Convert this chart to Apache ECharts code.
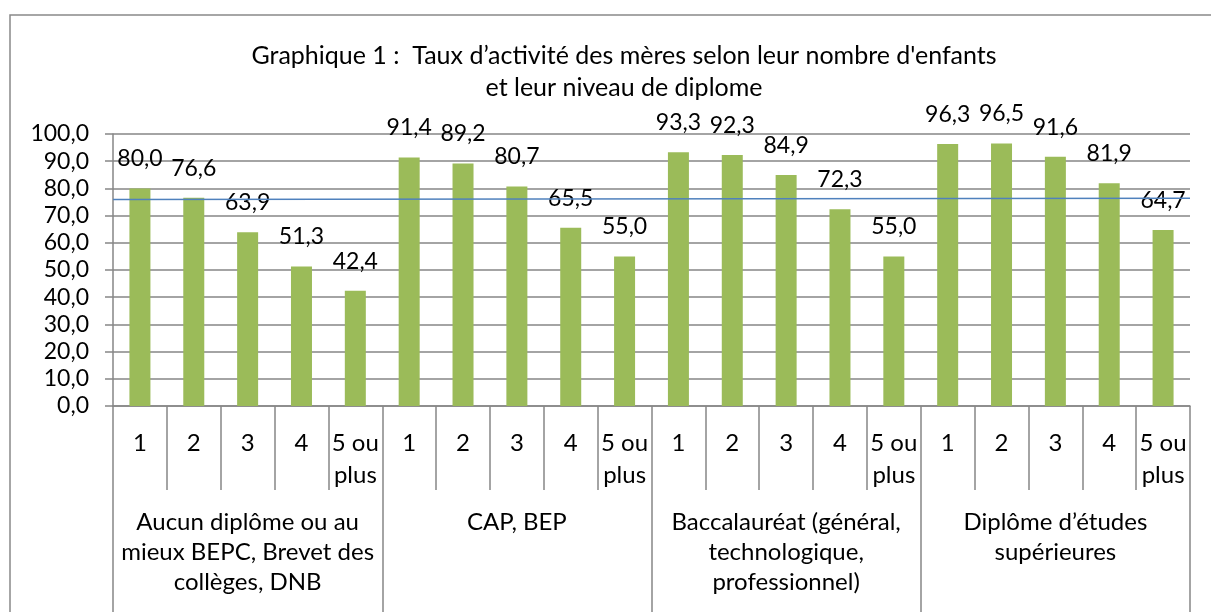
<!DOCTYPE html>
<html lang="fr">
<head>
    <meta charset="UTF-8">
    <title>Taux d'activité des mères</title>
    <script type="text/javascript" src="https://cdn.jsdelivr.net/npm/echarts@6/dist/echarts.min.js"></script>
</head>
<body style="margin:0">
<div id="main" style="width:1211px;height:612px"></div>

<script type="text/javascript">
    // niveaux de diplome (groupes) et nombre d'enfants
    var groups = ['Aucun diplôme ou au\nmieux BEPC, Brevet des\ncollèges, DNB', 'CAP, BEP',
        'Baccalauréat (général,\ntechnologique,\nprofessionnel)', 'Diplôme d\u2019études\nsupérieures'];
    var children = ['1', '2', '3', '4', '5 ou\nplus'];

    var aucun = [80.0, 76.6, 63.9, 51.3, 42.4];
    var capBep = [91.4, 89.2, 80.7, 65.5, 55.0];
    var bac = [93.3, 92.3, 84.9, 72.3, 55.0];
    var superieur = [96.3, 96.5, 91.6, 81.9, 64.7];

    // ligne horizontale (moyenne), debut et fin
    var moyenne = [75.9, 76.4];

    var yTicks = [0, 100, 10];

    var values = aucun.concat(capBep, bac, superieur);
    var cats = [];
    for (var g = 0; g < groups.length; g++) {
        for (var c = 0; c < children.length; c++) {
            cats.push(g + '-' + children[c]);
        }
    }

    function fr(v) {
        return Number(v).toFixed(1).replace('.', ',');
    }

    var font = 'Lato';
    var grey = '#868686';

    var myChart = echarts.init(document.getElementById('main'));
    var option = {
        animation: false,
        textStyle: {fontFamily: font},
        title: {
            text: 'Graphique 1 :  Taux d\u2019activité des mères selon leur nombre d\'enfants\net leur niveau de diplome',
            left: 619,
            top: 35,
            textAlign: 'center',
            textStyle: {fontFamily: font, fontSize: 25, fontWeight: 'normal', color: '#000', lineHeight: 32}
        },
        graphic: [{
            type: 'rect',
            shape: {x: 10, y: 15, width: 1400, height: 800},
            style: {fill: 'none', stroke: '#898989', lineWidth: 1.5},
            silent: true
        }],
        grid: {left: 113, right: 21, top: 134, bottom: 206},
        xAxis: [
            {
                type: 'category',
                data: cats,
                position: 'bottom',
                axisLine: {show: true, lineStyle: {color: grey, width: 1.5}},
                axisTick: {show: true, interval: 0, length: 84, lineStyle: {color: grey, width: 1.5}},
                axisLabel: {
                    interval: 0, margin: 21, fontSize: 24, lineHeight: 32, color: '#000',
                    fontFamily: font, verticalAlign: 'top',
                    formatter: function (v, i) { return children[i % children.length]; }
                }
            },
            {
                type: 'category',
                data: groups,
                position: 'bottom',
                axisLine: {show: false},
                axisTick: {show: true, interval: 0, length: 210, lineStyle: {color: grey, width: 1.5}},
                axisLabel: {
                    interval: 0, margin: 101, fontSize: 24, lineHeight: 30, color: '#000',
                    fontFamily: font, verticalAlign: 'top', align: 'center'
                }
            },
            {
                type: 'category',
                data: ['debut', 'fin'],
                boundaryGap: false,
                show: false
            }
        ],
        yAxis: {
            type: 'value',
            min: yTicks[0],
            max: yTicks[1],
            interval: yTicks[2],
            axisLine: {show: true, lineStyle: {color: grey, width: 1.5}},
            axisTick: {show: true, length: 8, lineStyle: {color: grey, width: 1.5}},
            splitLine: {lineStyle: {color: grey, width: 1.5}},
            axisLabel: {margin: 24, fontSize: 23, color: '#000', fontFamily: font, formatter: fr}
        },
        series: [
            {
                type: 'bar',
                xAxisIndex: 0,
                data: values,
                barWidth: 21,
                itemStyle: {color: '#9BBB59'},
                label: {
                    show: true, position: 'top', distance: 18,
                    fontSize: 23, color: '#000', fontFamily: font,
                    formatter: function (p) { return fr(p.value); }
                }
            },
            {
                type: 'line',
                xAxisIndex: 2,
                data: moyenne,
                symbol: 'none',
                lineStyle: {color: '#4F81BD', width: 1.5},
                z: 3
            }
        ]
    };
    myChart.setOption(option);
</script>
</body>
</html>
